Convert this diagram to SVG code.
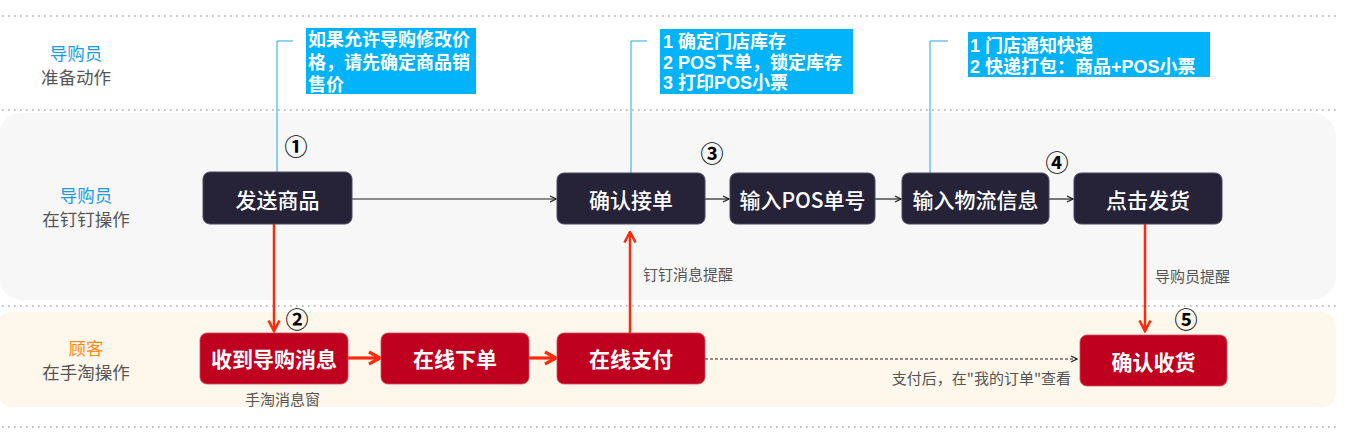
<svg xmlns="http://www.w3.org/2000/svg" width="1351" height="446" viewBox="0 0 1351 446">
<defs>
<style>
.dot{stroke:#a8a8a8;stroke-width:1.6;stroke-dasharray:1.6 4.4;fill:none}
.dark{fill:#262339;stroke:#4d4b60;stroke-width:1}
.red{fill:#c0001f;stroke:#d24a5a;stroke-width:0.8}
.nt{font-family:"Noto Sans CJK SC","Liberation Sans",sans-serif;font-size:21px;fill:#fff;text-anchor:middle;dominant-baseline:central;font-weight:500}
.rt{font-family:"Noto Sans CJK SC","Liberation Sans",sans-serif;font-size:21px;fill:#fff;text-anchor:middle;dominant-baseline:central;font-weight:bold}
.lane{font-family:"Noto Sans CJK SC",sans-serif;font-size:17.5px;text-anchor:middle;dominant-baseline:central}
.note{font-family:"Liberation Sans","Noto Sans CJK SC",sans-serif;font-size:18px;font-weight:bold;fill:#fff;dominant-baseline:central}
.lbl{font-family:"Noto Sans CJK SC",sans-serif;font-size:15px;fill:#555;dominant-baseline:central}
.num{font-family:"Noto Sans CJK SC","DejaVu Sans",sans-serif;font-size:23px;font-weight:bold;fill:#000;text-anchor:middle;dominant-baseline:central}
.cy{stroke:#1fa6ea;stroke-width:1;fill:none}
.blk{stroke:#222;stroke-width:1.2;fill:none}
.rd{stroke:#fa2c0c;fill:none}
</style>
<marker id="ab" viewBox="0 0 8 8" refX="7" refY="4" markerWidth="8" markerHeight="8" markerUnits="userSpaceOnUse" orient="auto">
<path d="M1,1 L7,4 L1,7" fill="none" stroke="#222" stroke-width="1.3"/>
</marker>
<marker id="ar" viewBox="0 0 14 14" refX="12.5" refY="7" markerWidth="14" markerHeight="14" markerUnits="userSpaceOnUse" orient="auto">
<path d="M2,1.5 L12.5,7 L2,12.5" fill="none" stroke="#fa2c0c" stroke-width="2.6"/>
</marker>
<marker id="ar2" viewBox="0 0 16 16" refX="14" refY="8" markerWidth="16" markerHeight="16" markerUnits="userSpaceOnUse" orient="auto">
<path d="M3,2 L14,8 L3,14" fill="none" stroke="#fa2c0c" stroke-width="3.2"/>
</marker>
</defs>

<g id="lanes">
<rect x="-2" y="113" width="1338" height="187" rx="24" fill="#f7f7f7"/>
<rect x="-2" y="312" width="1338" height="95" rx="14" fill="#fef7ec"/>
<line class="dot" x1="2" y1="16" x2="1336" y2="16"/>
<line class="dot" x1="2" y1="110" x2="1336" y2="110"/>
<line class="dot" x1="2" y1="306" x2="1336" y2="306"/>
<line class="dot" x1="2" y1="427" x2="1336" y2="427"/>
<text class="lane" x="76" y="52" fill="#1a9ae6">导购员</text>
<text class="lane" x="76" y="76" fill="#555">准备动作</text>
<text class="lane" x="86" y="194" fill="#1a9ae6">导购员</text>
<text class="lane" x="86" y="218" fill="#555">在钉钉操作</text>
<text class="lane" x="86" y="347" fill="#ff8c1a">顾客</text>
<text class="lane" x="86" y="371" fill="#555">在手淘操作</text>
</g>

<g id="connectors">
<path class="cy" d="M293,41 H277 V172"/>
<path class="cy" d="M647,41 H631 V173"/>
<path class="cy" d="M948,41 H930 V173"/>
<line class="blk" x1="352" y1="199" x2="556" y2="199" marker-end="url(#ab)"/>
<line class="blk" x1="705" y1="199" x2="729" y2="199" marker-end="url(#ab)"/>
<line class="blk" x1="875" y1="199" x2="901" y2="199" marker-end="url(#ab)"/>
<line class="blk" x1="1049" y1="199" x2="1073" y2="199" marker-end="url(#ab)"/>
<line class="rd" stroke-width="2.5" x1="274" y1="224" x2="274" y2="331" marker-end="url(#ar)"/>
<line class="rd" stroke-width="2.5" x1="630" y1="333" x2="630" y2="232" marker-end="url(#ar)"/>
<line class="rd" stroke-width="2.5" x1="1145" y1="224" x2="1145" y2="331" marker-end="url(#ar)"/>
<line class="rd" stroke-width="3.2" x1="348" y1="358" x2="380" y2="358" marker-end="url(#ar2)"/>
<line class="rd" stroke-width="3.2" x1="528" y1="358" x2="556" y2="358" marker-end="url(#ar2)"/>
<line class="blk" stroke-dasharray="3 2" x1="705" y1="359" x2="1077" y2="359" marker-end="url(#ab)"/>
<text class="lbl" x="643" y="273">钉钉消息提醒</text>
<text class="lbl" x="1155" y="275">导购员提醒</text>
<text class="lbl" x="245" y="398">手淘消息窗</text>
<text class="lbl" x="1071" y="377" text-anchor="end">支付后，在&quot;我的订单&quot;查看</text>
</g>

<g id="note1">
<rect x="306" y="28" width="170" height="66" fill="#00b3fb"/>
<text class="note" x="308" y="40">如果允许导购修改价</text>
<text class="note" x="308" y="63">格，请先确定商品销</text>
<text class="note" x="308" y="85">售价</text>
</g>
<g id="note2">
<rect x="660" y="29" width="193" height="65" fill="#00b3fb"/>
<text class="note" x="663" y="42">1 确定门店库存</text>
<text class="note" x="663" y="63">2 POS下单，锁定库存</text>
<text class="note" x="663" y="83">3 打印POS小票</text>
</g>
<g id="note3">
<rect x="968" y="32" width="242" height="45" fill="#00b3fb"/>
<text class="note" x="970" y="46">1 门店通知快递</text>
<text class="note" x="970" y="67">2 快递打包：商品+POS小票</text>
</g>

<g id="n1"><rect class="dark" x="203" y="172" width="149" height="52" rx="7"/><text class="nt" x="277.5" y="199">发送商品</text></g>
<g id="n3"><rect class="dark" x="557" y="173" width="148" height="51" rx="7"/><text class="nt" x="631" y="199">确认接单</text></g>
<g id="n3b"><rect class="dark" x="730" y="173" width="145" height="51" rx="7"/><text class="nt" x="802.5" y="199">输入POS单号</text></g>
<g id="n4"><rect class="dark" x="902" y="173" width="147" height="51" rx="7"/><text class="nt" x="975.5" y="199">输入物流信息</text></g>
<g id="n4b"><rect class="dark" x="1074" y="173" width="148" height="51" rx="7"/><text class="nt" x="1148" y="199">点击发货</text></g>
<g id="n2"><rect class="red" x="200" y="333" width="148" height="51" rx="7"/><text class="rt" x="274" y="358">收到导购消息</text></g>
<g id="n2b"><rect class="red" x="381" y="333" width="148" height="51" rx="7"/><text class="rt" x="455" y="358">在线下单</text></g>
<g id="n2c"><rect class="red" x="557" y="333" width="148" height="51" rx="7"/><text class="rt" x="631" y="358">在线支付</text></g>
<g id="n5"><rect class="red" x="1080" y="335" width="147" height="51" rx="7"/><text class="rt" x="1153.5" y="361">确认收货</text></g>

<g id="steps">
<text class="num" x="296" y="145">①</text>
<text class="num" x="297" y="318">②</text>
<text class="num" x="712" y="152">③</text>
<text class="num" x="1057" y="161">④</text>
<text class="num" x="1186" y="318">⑤</text>
</g>
</svg>
